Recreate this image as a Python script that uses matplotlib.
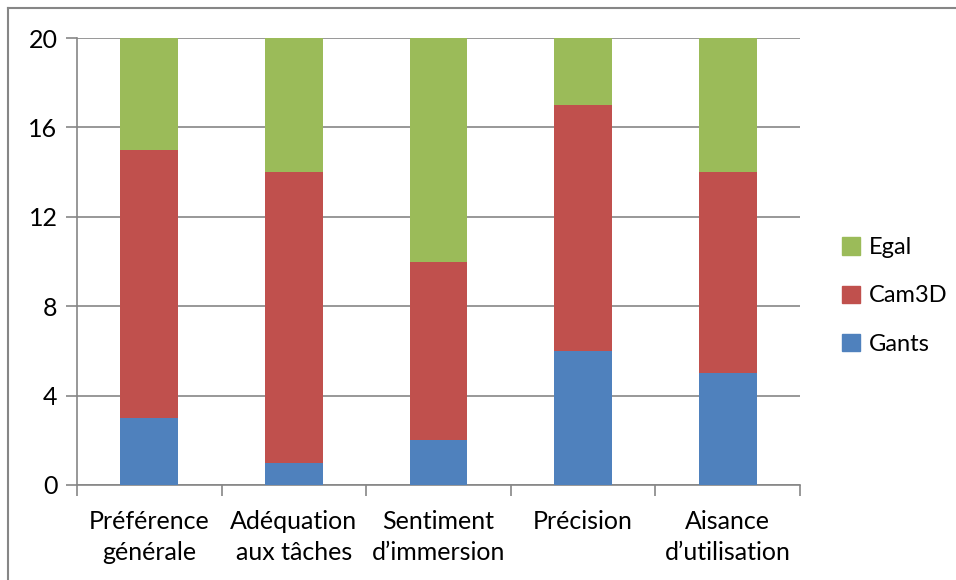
import numpy as np
import matplotlib.pyplot as plt
from matplotlib.lines import Line2D
from matplotlib.patches import Patch

categories = ["Préférence\ngénérale", "Adéquation\naux tâches", "Sentiment\nd\u2019immersion",
              "Précision", "Aisance\nd\u2019utilisation"]
gants = np.array([3, 1, 2, 6, 5])
cam3d = np.array([12, 13, 8, 11, 9])
egal = np.array([5, 6, 10, 3, 6])

blue = "#4F81BD"
red = "#C0504D"
green = "#9BBB59"
grey = "#868686"

plt.rcParams['font.family'] = ['Lato', 'DejaVu Sans']

fig = plt.figure(figsize=(9.56, 5.8), dpi=100)
ax = fig.add_axes([77 / 956, 1 - 485 / 580, (800 - 77) / 956, (485 - 38) / 580])

x = np.arange(len(categories))
w = 0.4
ax.bar(x, gants, w, color=blue, label="Gants", zorder=3)
ax.bar(x, cam3d, w, bottom=gants, color=red, label="Cam3D", zorder=3)
ax.bar(x, egal, w, bottom=gants + cam3d, color=green, label="Egal", zorder=3)

ax.set_xlim(-0.5, len(categories) - 0.5)
ax.set_ylim(0, 20)
ax.set_yticks(np.arange(0, 21, 4))
ax.yaxis.grid(True, color=grey, linewidth=1.2, zorder=0)
ax.set_xticks(np.arange(-0.5, len(categories), 1), minor=False)
ax.set_xticklabels([])
ax.set_xticks(x, minor=True)
ax.set_xticklabels(categories, minor=True, fontsize=18, linespacing=1.4)
ax.tick_params(axis='x', which='minor', length=0, pad=18)
ax.tick_params(axis='x', which='major', length=8, color=grey, width=1.2)
ax.tick_params(axis='y', length=8, color=grey, width=1.2, labelsize=18, pad=6)
for side in ['top', 'right']:
    ax.spines[side].set_visible(False)
for side in ['left', 'bottom']:
    ax.spines[side].set_color(grey)
    ax.spines[side].set_linewidth(1.2)

handles = [Patch(color=green), Patch(color=red), Patch(color=blue)]
fig.legend(handles, ["Egal", "Cam3D", "Gants"], loc='center left',
           bbox_to_anchor=(842 / 956, 1 - 296 / 580), frameon=False, fontsize=17,
           borderpad=0, borderaxespad=0,
           handlelength=0.75, handleheight=0.75, handletextpad=0.4, labelspacing=1.15)

# outer chart frame (top and left edges visible)
fig.add_artist(Line2D([8 / 956, 8 / 956], [0, 1 - 8 / 580], color=grey, linewidth=1.5))
fig.add_artist(Line2D([8 / 956, 1], [1 - 8 / 580, 1 - 8 / 580], color=grey, linewidth=1.5))

fig.savefig("out.png", dpi=100)
